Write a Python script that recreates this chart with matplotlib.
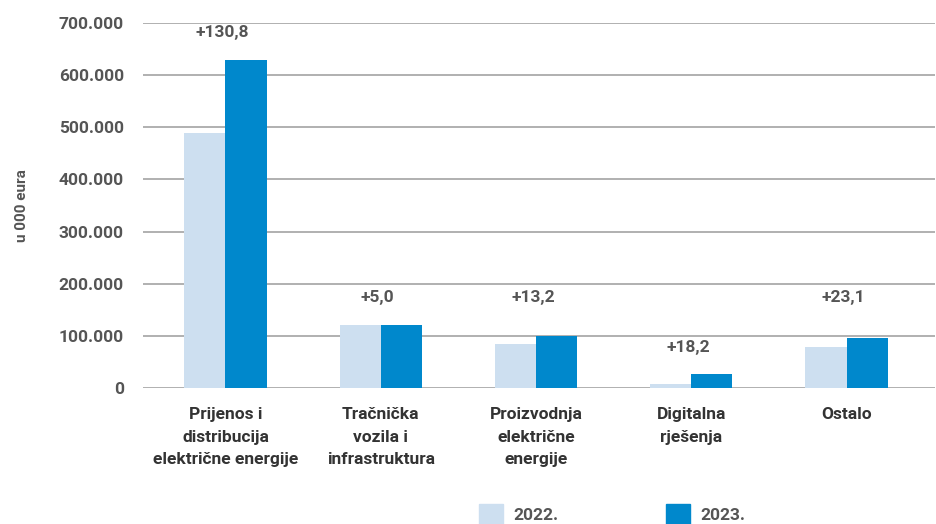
import numpy as np
import matplotlib.pyplot as plt
from matplotlib.patches import Patch

categories = ['Prijenos i\ndistribucija\nelektrične energije', 'Tračnička\nvozila i\ninfrastruktura',
              'Proizvodnja\nelektrične\nenergije', 'Digitalna\nrješenja', 'Ostalo']
values_2022 = [489000, 121000, 84000, 8000, 79000]
values_2023 = [629000, 121000, 100000, 27000, 96000]
changes = ['+130,8', '+5,0', '+13,2', '+18,2', '+23,1']
series = ['2022.', '2023.']
yticks = [0, 100000, 200000, 300000, 400000, 500000, 600000, 700000]

# layout only: height of the change labels
label_y = [681000, 174000, 174000, 77000, 174000]

c22 = '#cddff0'
c23 = '#0088cc'
txt = '#555555'
W = 'bold'
plt.rcParams['font.family'] = ['Roboto', 'DejaVu Sans']

fig = plt.figure(figsize=(9.36, 5.24), dpi=100)
ax = fig.add_axes([0.153, 0.2595, 0.846, 0.6965])

x = np.arange(len(categories))
w = 0.265
ax.bar(x - w/2, values_2022, w, color=c22, zorder=3)
ax.bar(x + w/2, values_2023, w, color=c23, zorder=3)

for xi, lab, ly in zip(x, changes, label_y):
    ax.text(xi - 0.02, ly, lab, ha='center', va='center', fontsize=12.5, fontweight=W, color=txt)

ax.set_xlim(-0.53, len(categories) - 0.43)
ax.set_ylim(0, 700000)
ax.set_yticks(yticks)
ax.set_yticklabels([f'{v:,}'.replace(',', '.') for v in yticks], fontsize=12.5, fontweight=W, color=txt)
ax.yaxis.grid(True, color='#aaaaaa', linewidth=1.3, zorder=0)
ax.tick_params(axis='y', length=0, pad=14)
ax.tick_params(axis='x', length=0, pad=14)
ax.set_xticks(x)
ax.set_xticklabels(categories, fontsize=12.5, fontweight=W, color='#333333', linespacing=1.6, va='top')
for s in ax.spines.values():
    s.set_visible(False)
ax.set_ylabel('u 000 eura', fontsize=11, fontweight=W, color=txt, labelpad=21)

handles = [Patch(color=c22), Patch(color=c23)]
leg = fig.legend(handles, series, loc='lower center', bbox_to_anchor=(0.654, -0.03), ncol=2, frameon=False,
                 handlelength=1.4, handleheight=1.4, columnspacing=6.2, handletextpad=0.6,
                 prop={'weight': W, 'size': 12.5})
for t in leg.get_texts():
    t.set_color(txt)

fig.savefig('out.png', dpi=100)
